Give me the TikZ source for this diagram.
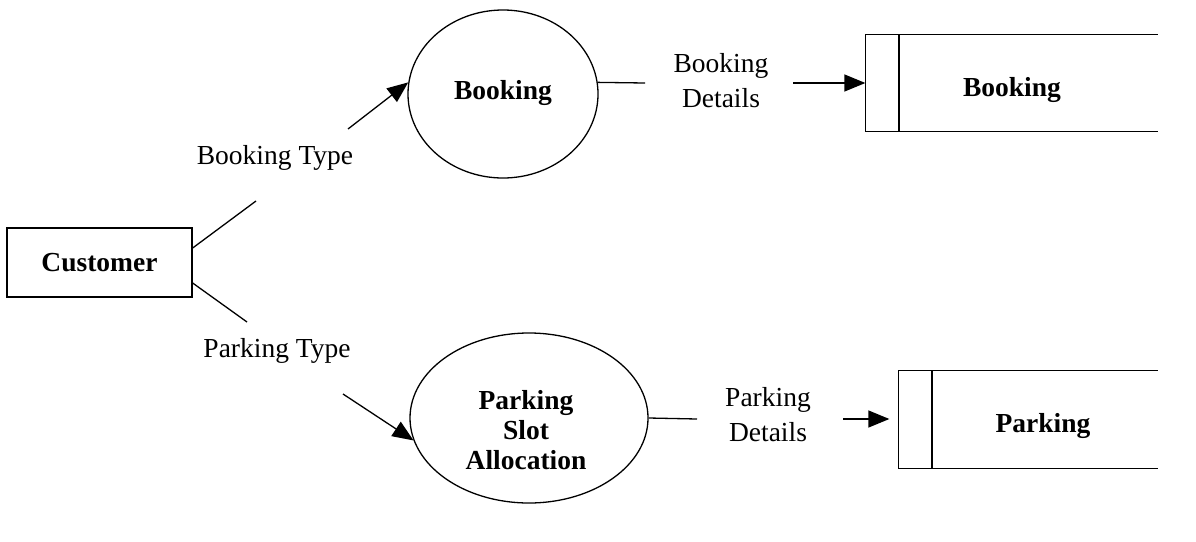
\documentclass[tikz,border=0pt]{standalone}
\usepackage{fontspec}
\setmainfont{Liberation Serif}
\usetikzlibrary{shapes.geometric,arrows.meta}
\begin{document}
\begin{tikzpicture}[x=1pt,y=-1pt,
  line width=1.3pt,
  lbl/.style={font=\fontsize{27.5}{35}\selectfont, align=center, inner sep=0pt},
  bold/.style={font=\fontsize{27.5}{30}\selectfont\bfseries, align=center, inner sep=0pt},
  entity/.style={draw, rectangle, minimum width=185pt, minimum height=69pt, inner sep=0pt, font=\fontsize{27.5}{30}\selectfont\bfseries},
  proc/.style={draw, ellipse, inner sep=0pt},
  store/.style={rectangle, inner sep=0pt},
  flow/.style={-{Triangle[length=21pt,width=17pt]}},
  plain/.style={-}]
\useasboundingbox (0,0) rectangle (1196,541);

% customer
\node[entity] (cust) at (99.5,262.5) {Customer};

% processes
\node[proc, minimum width=190pt, minimum height=168pt] (bproc) at (503,94) {};
\node[bold] (bproctext) at (503,93) {Booking};
\node[proc, minimum width=238pt, minimum height=170pt] (palloc) at (529,418) {};
\node[bold] (palloctext) at (526,430) {Parking\\Slot\\Allocation};

% data stores
\node[store, minimum width=291pt, minimum height=96pt] (bstore) at (1011.5,83) {};
\node[bold] (bstoretext) at (1012,90) {Booking};
\node[store, minimum width=258pt, minimum height=97pt] (pstore) at (1028,419.5) {};
\node[bold] (pstoretext) at (1043,426) {Parking};
\coordinate (bsep) at (899,35);
\coordinate (psep) at (932,371);
\draw (bstore.north east) -- (bstore.north west) -- (bstore.south west) -- (bstore.south east);
\draw (bsep) -- (bsep |- bstore.south);
\draw (pstore.north east) -- (pstore.north west) -- (pstore.south west) -- (pstore.south east);
\draw (psep) -- (psep |- pstore.south);

% labels
\node[lbl] (btype) at (275,158) {Booking Type};
\node[lbl] (ptype) at (277,351) {Parking Type};
\node[lbl] (bdet) at (721,81) {Booking\\Details};
\node[lbl] (pdet) at (768,415) {Parking\\Details};

% connector ends
\coordinate (c1) at (256,201);
\coordinate (c2) at (247,322);
\coordinate (a1) at (348,129);
\coordinate (a2) at (343,394);
\coordinate (bl) at (645,83);
\coordinate (ba) at (793,83);
\coordinate (pl) at (697,419);
\coordinate (pa) at (843,419);

% connectors
\draw[plain] ([yshift=14.5pt]cust.east) -- (c1);
\draw[plain] ([yshift=-20.5pt]cust.east) -- (c2);
\draw[flow] (a1) -- (bproc.173);
\draw[flow] (a2) -- (palloc.191.5);
\draw[plain] (bproc.7) -- (bl);
\draw[flow] (ba) -- (ba -| bstore.west);
\draw[plain] (palloc.east) -- (pl);
\draw[flow] (pa) -- ([xshift=-9pt]pa -| pstore.west);
\end{tikzpicture}
\end{document}
